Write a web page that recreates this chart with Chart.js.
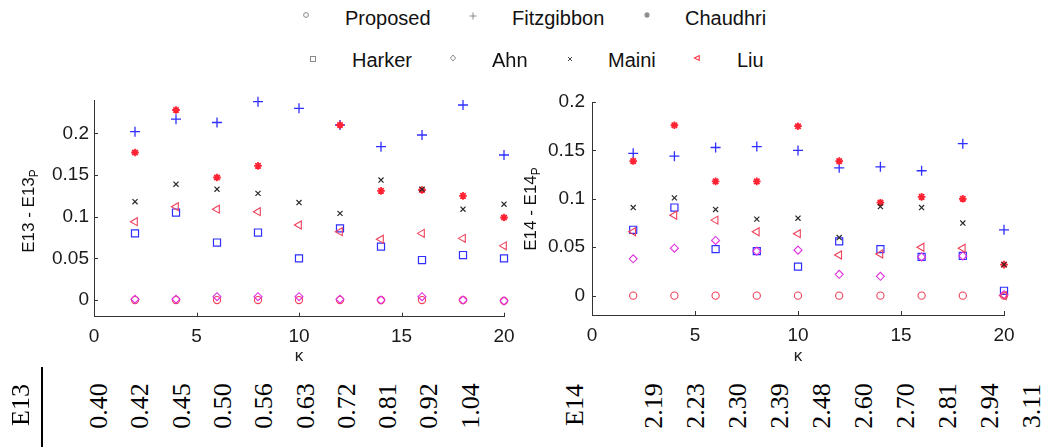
<!DOCTYPE html>
<html>
<head>
<meta charset="utf-8">
<script src="https://cdn.jsdelivr.net/npm/chart.js@4.4.0/dist/chart.umd.min.js"></script>
<style>
  html, body { margin: 0; padding: 0; background: #fff; }
  #wrap { position: relative; width: 1054px; height: 447px; overflow: hidden; background: #fff; }
  canvas { position: absolute; }
  .lg { position: absolute; font: 20px 'Liberation Sans', Arial, sans-serif; line-height: 20px; color: #111; white-space: nowrap; }
  .mk { position: absolute; overflow: visible; }
  .yt { position: absolute; font: 17px 'Liberation Sans', Arial, sans-serif; line-height: 17px; color: #111; white-space: nowrap;
        transform: translate(-50%, -50%) rotate(-90deg); }
  .yt sub { font-size: 12px; vertical-align: -4px; line-height: 0; }
  .tb { position: absolute; font: 26px 'Liberation Serif', 'Times New Roman', serif; line-height: 26px; color: #000; white-space: nowrap;
        transform: translate(-50%, -50%) rotate(-90deg); }
</style>
</head>
<body>
<div id="wrap">
  <canvas id="c13" width="530" height="280" style="left:0px; top:90px;"></canvas>
  <canvas id="c14" width="524" height="280" style="left:530px; top:90px;"></canvas>
</div>
<script>
// kappa values shared by both panels
const kappa = [2, 4, 6, 8, 10, 12, 14, 16, 18, 20];

// E13 - E13_P per method
const proposed13   = [0, 0, 0, 0, 0, 0, 0, 0, 0, -0.001];
const fitzgibbon13 = [0.202, 0.217, 0.213, 0.238, 0.230, 0.210, 0.184, 0.198, 0.234, 0.174];
const chaudhri13   = [0.177, 0.228, 0.147, 0.161, null, 0.210, 0.131, 0.132, 0.125, 0.099];
const harker13     = [0.080, 0.105, 0.069, 0.081, 0.050, 0.086, 0.064, 0.048, 0.054, 0.050];
const ahn13        = [0.001, 0.001, 0.004, 0.004, 0.004, 0.001, 0.000, 0.004, 0.000, -0.001];
const maini13      = [0.118, 0.139, 0.133, 0.128, 0.117, 0.104, 0.144, 0.133, 0.109, 0.115];
const liu13        = [0.094, 0.112, 0.109, 0.106, 0.090, 0.082, 0.073, 0.080, 0.074, 0.065];

// E14 - E14_P per method
const proposed14   = [0, 0, 0, 0, 0, 0, 0, 0, 0, 0];
const fitzgibbon14 = [0.147, 0.144, 0.153, 0.154, 0.150, 0.132, 0.133, 0.129, 0.157, 0.068];
const chaudhri14   = [0.139, 0.176, 0.118, 0.118, 0.175, 0.139, 0.096, 0.102, 0.100, 0.032];
const harker14     = [0.068, 0.091, 0.048, 0.046, 0.030, 0.056, 0.048, 0.040, 0.041, 0.005];
const ahn14        = [0.038, 0.049, 0.057, 0.046, 0.047, 0.022, 0.020, 0.040, 0.041, 0.001];
const maini14      = [0.091, 0.101, 0.089, 0.079, 0.080, 0.060, 0.092, 0.091, 0.075, 0.032];
const liu14        = [0.066, 0.083, 0.078, 0.066, 0.064, 0.042, 0.043, 0.050, 0.049, 0.000];

// axis ticks
const xTicks   = [0, 5, 10, 15, 20];
const yTicks13 = [0, 0.05, 0.1, 0.15, 0.2];
const yTicks14 = [0, 0.05, 0.1, 0.15, 0.2];

// table under the panels
const e13Row = ['0.40', '0.42', '0.45', '0.50', '0.56', '0.63', '0.72', '0.81', '0.92', '1.04'];
const e14Row = ['2.19', '2.23', '2.30', '2.39', '2.48', '2.60', '2.70', '2.81', '2.94', '3.11'];

const methods = ['Proposed', 'Fitzgibbon', 'Chaudhri', 'Harker', 'Ahn', 'Maini', 'Liu'];

const BLUE = '#2f2fff', RED = '#ff2233', PINK = '#f0405a', MAG = '#e030e0', BLK = '#2a2a2a';

const styles = {
  Proposed:   { pointStyle: 'circle',   radius: 3.6, color: PINK, width: 1.1 },
  Fitzgibbon: { pointStyle: 'cross',    radius: 5,   color: BLUE, width: 1.3 },
  Chaudhri:   { pointStyle: 'star',     radius: 3.8, color: RED,  width: 1.8 },
  Harker:     { pointStyle: 'rect',     radius: 5,   color: BLUE, width: 1.2 },
  Ahn:        { pointStyle: 'rectRot',  radius: 4,   color: MAG,  width: 1.1 },
  Maini:      { pointStyle: 'crossRot', radius: 3.6, color: BLK,  width: 1.2 },
  Liu:        { pointStyle: 'triangle', radius: 4.6, color: PINK, width: 1.1, rotation: -90 }
};

function makeDatasets(series) {
  return methods.map((name, i) => {
    const s = styles[name];
    return {
      label: name,
      data: kappa.map((k, j) => ({ x: k, y: series[i][j] })).filter(p => p.y !== null),
      pointStyle: s.pointStyle,
      pointRadius: s.radius,
      pointRotation: s.rotation || 0,
      borderColor: s.color,
      pointBorderColor: s.color,
      backgroundColor: 'rgba(0,0,0,0)',
      pointBorderWidth: s.width,
      showLine: false,
      clip: false,
      order: methods.length - i
    };
  });
}

// short inward tick marks on the left and bottom axes
const inwardTicks = {
  id: 'inwardTicks',
  afterDraw(chart) {
    const { ctx, chartArea, scales } = chart;
    ctx.save();
    ctx.strokeStyle = '#333';
    ctx.lineWidth = 1;
    scales.x.ticks.forEach(t => {
      const px = Math.round(scales.x.getPixelForValue(t.value)) + 0.5;
      ctx.beginPath();
      ctx.moveTo(px, chartArea.bottom);
      ctx.lineTo(px, chartArea.bottom - 4);
      ctx.stroke();
    });
    scales.y.ticks.forEach(t => {
      const py = Math.round(scales.y.getPixelForValue(t.value)) + 0.5;
      ctx.beginPath();
      ctx.moveTo(chartArea.left, py);
      ctx.lineTo(chartArea.left + 4, py);
      ctx.stroke();
    });
    ctx.restore();
  }
};

function makeChart(id, series, yMin, yMax, yTicks, geo) {
  const tickFont = { family: "'Liberation Sans', Arial, sans-serif", size: 19 };
  return new Chart(document.getElementById(id), {
    type: 'scatter',
    data: { datasets: makeDatasets(series) },
    options: {
      responsive: false,
      animation: false,
      events: [],
      layout: { padding: { left: 0, right: geo.right, top: geo.top, bottom: 0 } },
      plugins: { legend: { display: false }, tooltip: { enabled: false } },
      scales: {
        x: {
          type: 'linear', min: 0, max: 20,
          afterBuildTicks: sc => { sc.ticks = xTicks.map(v => ({ value: v })); },
          afterFit: sc => { sc.height = geo.xh; sc.paddingLeft = 0; sc.paddingRight = 0; },
          grid: { display: false, drawTicks: false },
          border: { display: true, color: '#333', width: 1 },
          ticks: { padding: geo.xpad, color: '#1a1a1a', font: tickFont, maxRotation: 0, callback: v => String(v) },
          title: { display: true, text: 'κ', color: '#222', padding: { top: 0, bottom: geo.tpad },
                   font: { family: "'Liberation Sans', Arial, sans-serif", size: 17 } }
        },
        y: {
          type: 'linear', min: yMin, max: yMax,
          afterBuildTicks: sc => { sc.ticks = yTicks.map(v => ({ value: v })); },
          afterFit: sc => { sc.width = geo.yw; sc.paddingTop = 0; sc.paddingBottom = 0; },
          grid: { display: false, drawTicks: false },
          border: { display: true, color: '#333', width: 1 },
          ticks: { padding: geo.ypad, color: '#1a1a1a', font: tickFont, callback: v => String(v) }
        }
      }
    },
    plugins: [inwardTicks]
  });
}

makeChart('c13',
  [proposed13, fitzgibbon13, chaudhri13, harker13, ahn13, maini13, liu13],
  -0.02, 0.24, yTicks13,
  { right: 26, top: 10, xh: 53.3, yw: 94, xpad: 9, ypad: 5, tpad: 3 });

makeChart('c14',
  [proposed14, fitzgibbon14, chaudhri14, harker14, ahn14, maini14, liu14],
  -0.02, 0.2, yTicks14,
  { right: 50, top: 12, xh: 55, yw: 62, xpad: 9, ypad: 7, tpad: 3 });

const wrap = document.getElementById('wrap');
function add(html) { wrap.insertAdjacentHTML('beforeend', html); }

// y-axis titles with subscript
add('<div class="yt" style="left:28px; top:211px">E13 - E13<sub>P</sub></div>');
add('<div class="yt" style="left:530px; top:209px">E14 - E14<sub>P</sub></div>');

// legend, two rows
const legendItems = [
  { name: 'Proposed',   mx: 306, my: 15, tx: 345, base: 25 },
  { name: 'Fitzgibbon', mx: 473, my: 16, tx: 512, base: 25 },
  { name: 'Chaudhri',   mx: 647, my: 15, tx: 685, base: 25 },
  { name: 'Harker',     mx: 313, my: 59, tx: 352, base: 67 },
  { name: 'Ahn',        mx: 453, my: 58, tx: 492, base: 67 },
  { name: 'Maini',      mx: 570, my: 59, tx: 608, base: 67 },
  { name: 'Liu',        mx: 697, my: 58, tx: 737, base: 67 }
];
const GREY = '#8a8a8a';
function markerSvg(name) {
  const c = name === 'Liu' ? '#ff3344' : (name === 'Maini' ? '#444' : GREY);
  switch (name) {
    case 'Proposed':   return `<circle cx="6" cy="6" r="2.4" fill="none" stroke="${c}" stroke-width="1"/>`;
    case 'Fitzgibbon': return `<path d="M6 2.5V9.5M2.5 6H9.5" stroke="${c}" stroke-width="1"/>`;
    case 'Chaudhri':   return `<path d="M6 3V9M3 6H9M4 4L8 8M8 4L4 8" stroke="${c}" stroke-width="1.2"/>`;
    case 'Harker':     return `<rect x="3.5" y="3.5" width="5" height="5" fill="none" stroke="${c}" stroke-width="1"/>`;
    case 'Ahn':        return `<path d="M6 3L8.6 6L6 9L3.4 6Z" fill="none" stroke="${c}" stroke-width="1"/>`;
    case 'Maini':      return `<path d="M4 4L8 8M8 4L4 8" stroke="${c}" stroke-width="1"/>`;
    case 'Liu':        return `<path d="M3.4 6L8.2 3.6V8.4Z" fill="none" stroke="${c}" stroke-width="1.1"/>`;
  }
}
legendItems.forEach(it => {
  add(`<svg class="mk" width="12" height="12" style="left:${it.mx - 6}px; top:${it.my - 6}px">${markerSvg(it.name)}</svg>`);
  add(`<div class="lg" style="left:${it.tx}px; top:${it.base - 17}px">${it.name}</div>`);
});

// table of E13 / E14 values
add('<div class="tb" style="left:21px; top:405px">E13</div>');
add('<div style="position:absolute; left:41px; top:367px; width:2px; height:80px; background:#000"></div>');
e13Row.forEach((v, i) => add(`<div class="tb" style="left:${99 + 41.3 * i}px; top:406px">${v}</div>`));
add('<div class="tb" style="left:575px; top:405px">E14</div>');
e14Row.forEach((v, i) => add(`<div class="tb" style="left:${654 + 42 * i}px; top:406px">${v}</div>`));
</script>
</body>
</html>
